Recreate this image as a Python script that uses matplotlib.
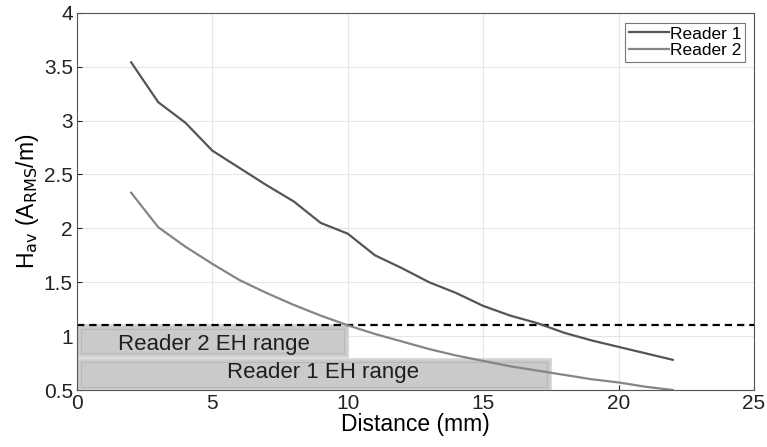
import matplotlib
matplotlib.use('Agg')
import matplotlib.pyplot as plt
from matplotlib.patches import Rectangle

distance = list(range(2, 23))
reader1 = [3.54, 3.17, 2.98, 2.72, 2.56, 2.40, 2.25, 2.05, 1.95, 1.75, 1.63,
           1.50, 1.40, 1.28, 1.19, 1.12, 1.03, 0.96, 0.90, 0.84, 0.78]
reader2 = [2.33, 2.01, 1.83, 1.67, 1.52, 1.40, 1.29, 1.19, 1.10, 1.02, 0.95,
           0.88, 0.82, 0.77, 0.72, 0.68, 0.64, 0.60, 0.57, 0.53, 0.50]
threshold = 1.1
# EH ranges: (x_end, y_low, y_high, label)
range2 = (10.0, 0.81, 1.1, 'Reader 2 EH range')
range1 = (17.5, 0.5, 0.79, 'Reader 1 EH range')

plt.rcParams['font.family'] = ['Liberation Sans', 'DejaVu Sans']

fig = plt.figure(figsize=(7.67, 4.47), dpi=100)
ax = fig.add_axes([0.1004, 0.1275, 0.8827, 0.844])

for x_end, y0, y1, label in (range2, range1):
    ax.add_patch(Rectangle((0, y0), x_end, y1 - y0, facecolor='#cacaca',
                           edgecolor='#d6d6d6', lw=1.2, zorder=1))
    ax.add_patch(Rectangle((0.15, y0 + 0.03), x_end - 0.3, y1 - y0 - 0.06,
                           facecolor='none', edgecolor='#b8b8b8', lw=0.8, zorder=1))
ax.text(5.04, 0.867, range2[3], fontsize=16, ha='center', va='baseline', color='#1e1e1e', zorder=3)
ax.text(9.07, 0.61, range1[3], fontsize=16, ha='center', va='baseline', color='#1e1e1e', zorder=3)

ax.axhline(threshold, color='black', ls=(0, (3.3, 2.2)), lw=1.6, zorder=2)
ax.plot(distance, reader1, color='#555555', lw=1.6, label='Reader 1', zorder=3)
ax.plot(distance, reader2, color='#858585', lw=1.6, label='Reader 2', zorder=3)

ax.set_xlim(0, 25)
ax.set_ylim(0.5, 4)
ax.set_xticks([0, 5, 10, 15, 20, 25])
ax.set_yticks([0.5, 1, 1.5, 2, 2.5, 3, 3.5, 4])
ax.set_yticklabels(['0.5', '1', '1.5', '2', '2.5', '3', '3.5', '4'])
ax.grid(True, color='#e6e6e6', lw=0.8)
ax.set_axisbelow(True)
ax.tick_params(direction='in', labelsize=15, colors='#222222', top=False, right=False, pad=3)
for s in ax.spines.values():
    s.set_color('#555555')
ax.set_xlabel('Distance (mm)', fontsize=16.5, labelpad=0)
ax.set_ylabel('H$_{\\mathrm{av}}$ (A$_{\\mathrm{RMS}}$/m)', fontsize=16.5, labelpad=2)

leg = ax.legend(loc='upper right', bbox_to_anchor=(0.987, 0.973), fontsize=12.5,
                frameon=True, fancybox=False, borderpad=0.2, handlelength=2.3,
                handletextpad=0.1, labelspacing=0.1, borderaxespad=0)
leg.get_frame().set_edgecolor('#555555')
leg.get_frame().set_linewidth(0.8)

fig.savefig('out.png', dpi=100)
